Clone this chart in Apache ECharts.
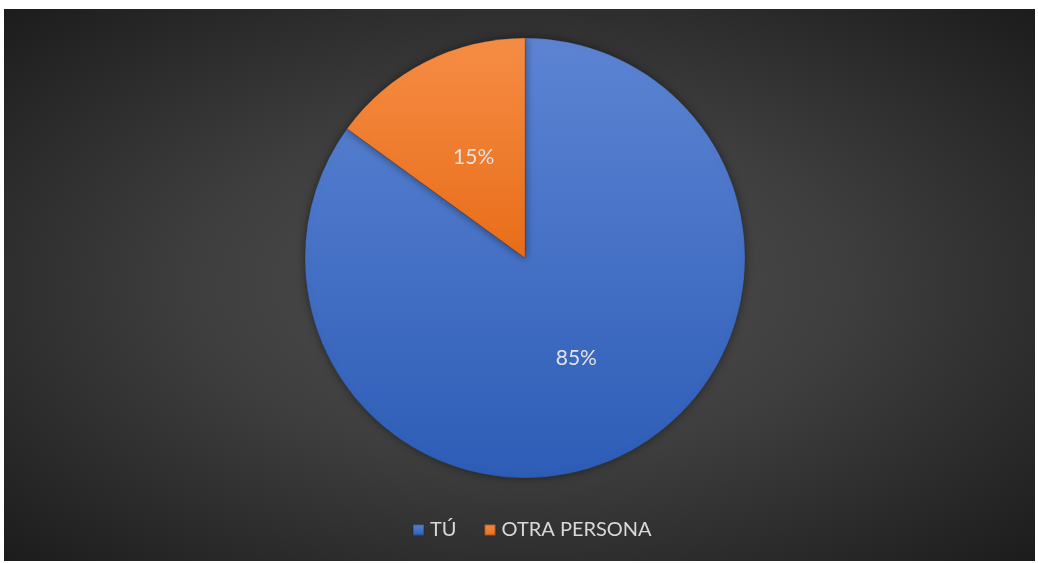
<!DOCTYPE html>
<html>
<head>
<meta charset="utf-8">
<script src="https://cdn.jsdelivr.net/npm/echarts@6/dist/echarts.min.js"></script>
<style>
  html, body { margin: 0; padding: 0; background: #ffffff; }
  #chart {
    position: absolute; left: 4px; top: 9px; width: 1031px; height: 552px;
    background: radial-gradient(ellipse farthest-corner at 50% 50%, #505050 0%, #3e3e3e 45%, #1c1c1c 100%);
  }
</style>
</head>
<body>
<div id="chart"></div>
<script>
// Who answers: share of responses
const categories = ['TÚ', 'OTRA PERSONA'];
const shares = [85, 15];
const sliceColors = [
  ['#5d84d3', '#2d5db7'],
  ['#f68d45', '#e86d19']
];

const chart = echarts.init(document.getElementById('chart'));

const vGrad = (top, bottom) => new echarts.graphic.LinearGradient(0, 0, 0, 1, [
  { offset: 0, color: top },
  { offset: 1, color: bottom }
]);

chart.setOption({
  backgroundColor: 'transparent',
  textStyle: { fontFamily: 'Lato' },
  legend: {
    data: categories,
    bottom: 16,
    left: 403,
    icon: 'rect',
    itemWidth: 11,
    itemHeight: 11,
    itemGap: 27,
    textStyle: { color: '#d9d9d9', fontSize: 20, fontFamily: 'Lato', padding: [0, 0, 0, 1] }
  },
  series: [{
    type: 'pie',
    center: [521, 249],
    radius: [0, 220],
    startAngle: 90,
    clockwise: true,
    silent: true,
    animation: false,
    data: categories.map((name, i) => ({
      name,
      value: shares[i],
      itemStyle: { color: vGrad(sliceColors[i][0], sliceColors[i][1]) }
    })),
    itemStyle: {
      borderColor: 'rgba(40,40,40,0.35)',
      borderWidth: 0.6,
      shadowBlur: 10,
      shadowColor: 'rgba(0,0,0,0.45)'
    },
    label: {
      show: true,
      position: 'inside',
      formatter: p => p.value + '%',
      color: '#e3e3e3',
      fontSize: 21,
      fontFamily: 'Lato'
    },
    labelLine: { show: false }
  }]
});
</script>
</body>
</html>
